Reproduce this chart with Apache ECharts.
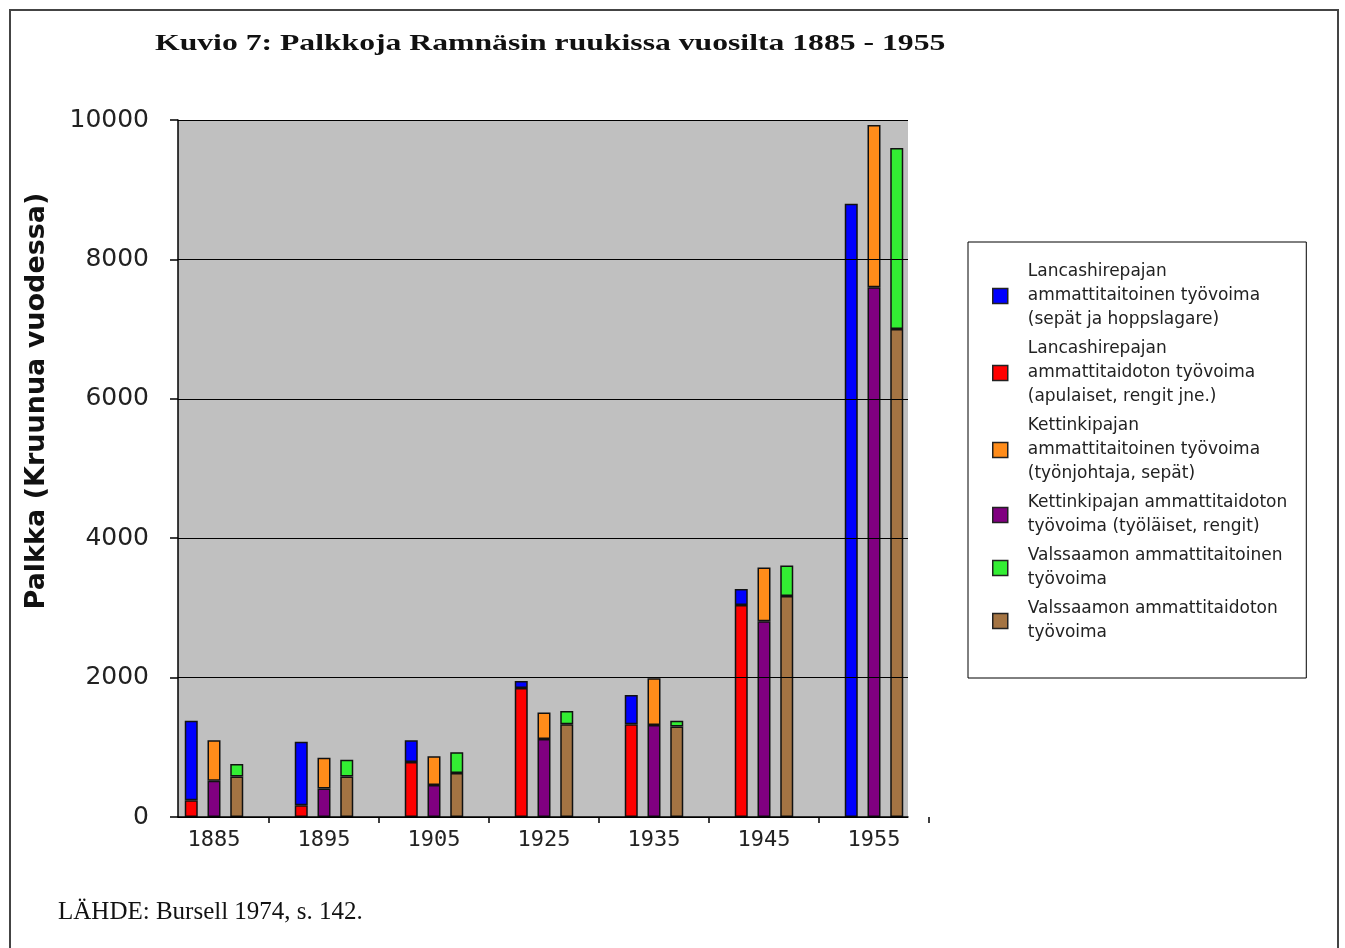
<!DOCTYPE html>
<html>
<head>
<meta charset="utf-8">
<script src="https://cdn.jsdelivr.net/npm/echarts@6/dist/echarts.min.js"></script>
<style>
html,body{margin:0;padding:0;background:#fff;}
#chart{width:1345px;height:948px;}
</style>
</head>
<body>
<div id="chart"></div>
<script>
const years = ['1885', '1895', '1905', '1925', '1935', '1945', '1955'];
const lancSkilled   = [1140, 910, 310, 100, 420, 230, 8800];
const lancUnskilled = [240, 170, 790, 1850, 1330, 3040, null];
const kettSkilled   = [580, 440, 410, 380, 670, 770, 2330];
const kettUnskilled = [520, 410, 460, 1120, 1320, 2810, 7600];
const valsSkilled   = [180, 240, 300, 190, 80, 440, 2600];
const valsUnskilled = [580, 580, 630, 1330, 1300, 3170, 7000];
const yTicks = { min: 0, max: 10000, interval: 2000 };

const names = {
  lancSkilled: 'Lancashirepajan\nammattitaitoinen työvoima\n(sepät ja hoppslagare)',
  lancUnskilled: 'Lancashirepajan\nammattitaidoton työvoima\n(apulaiset, rengit jne.)',
  kettSkilled: 'Kettinkipajan\nammattitaitoinen työvoima\n(työnjohtaja, sepät)',
  kettUnskilled: 'Kettinkipajan ammattitaidoton\ntyövoima (työläiset, rengit)',
  valsSkilled: 'Valssaamon ammattitaitoinen\ntyövoima',
  valsUnskilled: 'Valssaamon ammattitaidoton\ntyövoima'
};
const colors = {
  lancSkilled: '#0000ff', lancUnskilled: '#ff0000',
  kettSkilled: '#ff8c1a', kettUnskilled: '#800080',
  valsSkilled: '#33ee33', valsUnskilled: '#a47443'
};

function bar(key, data, stack) {
  return {
    name: names[key], type: 'bar', stack: stack, data: data,
    xAxisIndex: 1, yAxisIndex: 1,
    barWidth: 13, barGap: '75%',
    itemStyle: { color: colors[key], borderColor: '#111', borderWidth: 1.5 },
    emphasis: { disabled: true }
  };
}

const chart = echarts.init(document.getElementById('chart'));
chart.setOption({
  backgroundColor: '#fff',
  animation: false,
  grid: [
    { left: 178, top: 120, width: 730, height: 697, show: true, backgroundColor: '#c0c0c0', borderWidth: 0 },
    { left: 159, top: 120, width: 770, height: 697, show: false }
  ],
  xAxis: [
    { gridIndex: 0, type: 'category', data: years, z: 5,
      axisLine: { lineStyle: { color: '#000', width: 1.5 } },
      axisTick: { show: false }, axisLabel: { show: false }, splitLine: { show: false } },
    { gridIndex: 1, type: 'category', data: years,
      axisLine: { show: false },
      axisTick: { show: true, length: 6, interval: function (i) { return i !== 0; }, lineStyle: { color: '#000', width: 1.5 } },
      axisLabel: { fontFamily: 'DejaVu Sans Mono', fontSize: 22, color: '#222', margin: 12 } }
  ],
  yAxis: [
    { gridIndex: 0, type: 'value', min: yTicks.min, max: yTicks.max, interval: yTicks.interval, z: 5,
      axisLine: { show: true, lineStyle: { color: '#000', width: 1.5 } },
      axisTick: { show: true, length: 8, lineStyle: { color: '#000', width: 1.5 } },
      axisLabel: { fontFamily: 'DejaVu Sans', fontSize: 25, color: '#222', margin: 29,
        formatter: function (v) { return String(v); } },
      splitLine: { show: true, lineStyle: { color: '#000', width: 1.2 } } },
    { gridIndex: 1, type: 'value', min: yTicks.min, max: yTicks.max, show: false, splitLine: { show: false } }
  ],
  legend: {
    orient: 'vertical', left: 968, top: 242,
    padding: [18, 19, 33, 24], itemGap: 5, itemWidth: 15, itemHeight: 15,
    icon: 'rect',
    backgroundColor: '#fff', borderColor: '#000', borderWidth: 1,
    selectedMode: false,
    itemStyle: { borderColor: '#222', borderWidth: 1.5 },
    textStyle: { fontFamily: 'DejaVu Sans', fontSize: 17, color: '#222', lineHeight: 24, padding: [0, 0, 0, 15] },
    data: [names.lancSkilled, names.lancUnskilled, names.kettSkilled, names.kettUnskilled, names.valsSkilled, names.valsUnskilled]
  },
  series: [
    bar('lancUnskilled', lancUnskilled, 'L'),
    bar('lancSkilled', lancSkilled, 'L'),
    bar('kettUnskilled', kettUnskilled, 'K'),
    bar('kettSkilled', kettSkilled, 'K'),
    bar('valsUnskilled', valsUnskilled, 'V'),
    bar('valsSkilled', valsSkilled, 'V')
  ],
  graphic: [
    { type: 'rect', shape: { x: 10, y: 10, width: 1328, height: 1000 }, style: { fill: 'none', stroke: '#444', lineWidth: 2 }, z: 0 },
    { type: 'text', x: 155, y: 44, scaleX: 1.32,
      style: { text: 'Kuvio 7: Palkkoja Ramnäsin ruukissa vuosilta 1885 - 1955', font: 'bold 24px "Liberation Serif"', fill: '#111', verticalAlign: 'middle' } },
    { type: 'text', x: 37, y: 401, rotation: Math.PI / 2,
      style: { text: 'Palkka (Kruunua vuodessa)', font: 'bold 27px "DejaVu Sans"', fill: '#111', align: 'center', verticalAlign: 'middle' } },
    { type: 'text', x: 58, y: 912,
      style: { text: 'LÄHDE: Bursell 1974, s. 142.', font: '25px "Liberation Serif"', fill: '#111', verticalAlign: 'middle' } }
  ]
});
</script>
</body>
</html>
